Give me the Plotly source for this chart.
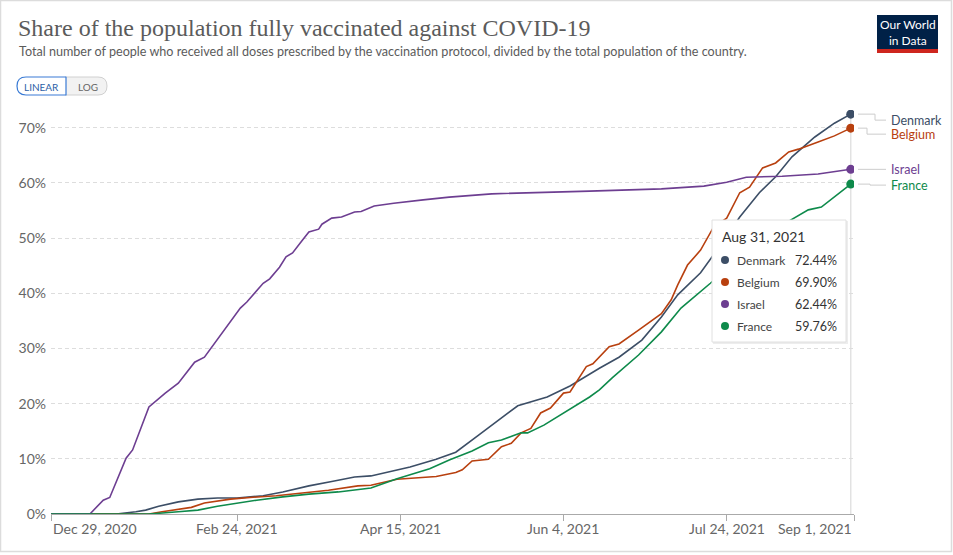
import plotly.graph_objects as go

# ---------------- data ----------------
countries = ["Denmark", "Belgium", "Israel", "France"]
colors = ["#3C4E66", "#B8400F", "#6D3E91", "#0E8A4B"]

denmark_dates = ["2020-12-29", "2021-01-18", "2021-01-24", "2021-01-27", "2021-01-31", "2021-02-06",
                 "2021-02-12", "2021-02-18", "2021-02-24", "2021-03-04", "2021-03-10", "2021-03-18",
                 "2021-03-25", "2021-04-01", "2021-04-06", "2021-04-18", "2021-04-26", "2021-05-02",
                 "2021-05-09", "2021-05-15", "2021-05-21", "2021-05-30", "2021-06-06", "2021-06-15",
                 "2021-06-21", "2021-06-28", "2021-07-04", "2021-07-09", "2021-07-16", "2021-07-21",
                 "2021-07-28", "2021-08-03", "2021-08-08", "2021-08-13", "2021-08-20", "2021-08-26",
                 "2021-08-31"]
denmark_values = [0.0, 0.0, 0.4, 0.7, 1.4, 2.2,
                  2.7, 2.9, 2.9, 3.3, 4.0, 5.1,
                  5.9, 6.7, 6.9, 8.5, 9.9, 11.2,
                  14.3, 17.0, 19.6, 21.2, 23.2, 26.4,
                  28.4, 31.5, 35.7, 39.7, 43.7, 47.8,
                  53.8, 58.2, 61.1, 64.7, 68.3, 70.8,
                  72.44]

belgium_dates = ["2020-12-29", "2021-01-28", "2021-02-01", "2021-02-06", "2021-02-10", "2021-02-14",
                 "2021-02-18", "2021-02-22", "2021-02-28", "2021-03-08", "2021-03-16", "2021-03-24",
                 "2021-04-02", "2021-04-06", "2021-04-14", "2021-04-26", "2021-05-02", "2021-05-04",
                 "2021-05-07", "2021-05-12", "2021-05-16", "2021-05-19", "2021-05-22", "2021-05-25",
                 "2021-05-28", "2021-05-31", "2021-06-04", "2021-06-06", "2021-06-11", "2021-06-13",
                 "2021-06-18", "2021-06-21", "2021-06-27", "2021-07-04", "2021-07-07", "2021-07-09",
                 "2021-07-12", "2021-07-16", "2021-07-20", "2021-07-24", "2021-07-28", "2021-07-31",
                 "2021-08-04", "2021-08-08", "2021-08-12", "2021-08-15", "2021-08-21", "2021-08-26",
                 "2021-08-31"]
belgium_values = [0.0, 0.0, 0.4, 0.9, 1.2, 2.0,
                  2.4, 2.7, 3.0, 3.3, 3.8, 4.3,
                  5.1, 5.2, 6.3, 6.8, 7.5, 8.0,
                  9.6, 9.9, 12.2, 12.8, 14.7, 15.5,
                  18.3, 19.2, 21.9, 22.1, 26.7, 27.2,
                  30.3, 30.8, 33.3, 36.3, 38.8, 41.5,
                  45.1, 47.8, 52.0, 53.6, 58.2, 59.2,
                  62.7, 63.6, 65.6, 66.1, 67.4, 68.5,
                  69.90]

israel_dates = ["2020-12-29", "2021-01-10", "2021-01-14", "2021-01-16", "2021-01-21", "2021-01-23",
                "2021-01-28", "2021-02-02", "2021-02-06", "2021-02-11", "2021-02-14", "2021-02-20",
                "2021-02-25", "2021-02-27", "2021-03-04", "2021-03-06", "2021-03-09", "2021-03-11",
                "2021-03-13", "2021-03-16", "2021-03-18", "2021-03-21", "2021-03-22", "2021-03-25",
                "2021-03-28", "2021-04-01", "2021-04-03", "2021-04-07", "2021-04-13", "2021-04-22",
                "2021-04-30", "2021-05-13", "2021-05-28", "2021-06-12", "2021-07-04", "2021-07-13",
                "2021-07-17", "2021-07-24", "2021-07-30", "2021-08-10", "2021-08-21", "2021-08-31"]
israel_values = [0.0, 0.05, 2.5, 3.0, 10.1, 11.6,
                 19.4, 21.9, 23.7, 27.5, 28.4, 33.3,
                 37.3, 38.4, 41.8, 42.6, 44.7, 46.6,
                 47.3, 49.6, 51.1, 51.6, 52.5, 53.6,
                 53.8, 54.7, 54.8, 55.8, 56.3, 56.9,
                 57.4, 58.0, 58.3, 58.5, 58.9, 59.2,
                 59.4, 60.1, 61.0, 61.2, 61.6, 62.44]

france_dates = ["2020-12-29", "2021-01-28", "2021-02-06", "2021-02-12", "2021-02-18", "2021-02-24",
                "2021-03-02", "2021-03-10", "2021-03-18", "2021-03-27", "2021-04-02", "2021-04-06",
                "2021-04-14", "2021-04-24", "2021-04-30", "2021-05-07", "2021-05-12", "2021-05-16",
                "2021-05-22", "2021-05-24", "2021-05-29", "2021-06-04", "2021-06-12", "2021-06-15",
                "2021-06-19", "2021-06-27", "2021-07-04", "2021-07-10", "2021-07-19", "2021-07-26",
                "2021-08-02", "2021-08-11", "2021-08-18", "2021-08-22", "2021-08-26", "2021-08-31"]
france_values = [0.0, 0.0, 0.4, 0.7, 1.4, 2.0,
                 2.5, 3.1, 3.6, 4.0, 4.5, 4.7,
                 6.4, 8.2, 9.8, 11.4, 12.9, 13.4,
                 14.7, 14.7, 16.1, 18.3, 21.2, 22.5,
                 24.7, 28.8, 33.0, 37.3, 41.8, 45.5,
                 49.1, 52.7, 55.1, 55.6, 57.4, 59.76]

tick_dates = ["2020-12-29", "2021-02-24", "2021-04-15", "2021-06-04", "2021-07-24", "2021-09-01"]
tick_labels = ["Dec 29, 2020", "Feb 24, 2021", "Apr 15, 2021", "Jun 4, 2021", "Jul 24, 2021", "Sep 1, 2021"]
y_ticks = [0, 10, 20, 30, 40, 50, 60, 70]
y_tick_labels = ["0%", "10%", "20%", "30%", "40%", "50%", "60%", "70%"]
hover_date_label = "Aug 31, 2021"

title = "Share of the population fully vaccinated against COVID-19"
subtitle = ("Total number of people who received all doses prescribed by the vaccination protocol, "
            "divided by the total population of the country.")

# ---------------- layout geometry (pixels) ----------------
W, H = 953, 555
PL, PR, PT, PB = 51, 854, 110, 514
PPU = 5.52                      # pixels per percentage point
Y_MAX = (PB - PT) / PPU


def fx(px):
    return (px - PL) / (PR - PL)


def fy(py):
    return (PB - py) / (PB - PT)


series = [
    (countries[0], denmark_dates, denmark_values, colors[0]),
    (countries[1], belgium_dates, belgium_values, colors[1]),
    (countries[2], israel_dates, israel_values, colors[2]),
    (countries[3], france_dates, france_values, colors[3]),
]

fig = go.Figure()
for name, d, v, c in series:
    fig.add_trace(go.Scatter(x=d, y=v, mode="lines", name=name,
                             line=dict(color=c, width=1.6), hoverinfo="skip"))

# end-point markers
fig.add_trace(go.Scatter(x=[s[1][-1] for s in series], y=[s[2][-1] for s in series],
                         mode="markers", marker=dict(color=[s[3] for s in series], size=9),
                         hoverinfo="skip"))

shapes = []
annotations = []

# hover vertical line
shapes.append(dict(type="line", xref="x", yref="paper", x0=denmark_dates[-1], x1=denmark_dates[-1],
                   y0=0, y1=1, line=dict(color="#e2e2e2", width=1.5), layer="below"))

# outer frame
shapes.append(dict(type="rect", xref="paper", yref="paper", x0=fx(0.5), x1=fx(951.5),
                   y0=fy(0.5), y1=fy(551.5), line=dict(color="#dcdcdc", width=1.5)))

# title and subtitle
annotations.append(dict(text=title, xref="paper", yref="paper", x=fx(16), y=fy(28),
                        xanchor="left", yanchor="middle", showarrow=False,
                        font=dict(family="Liberation Serif", size=24, color="#5b5b5b")))
annotations.append(dict(text=subtitle, xref="paper", yref="paper", x=fx(17), y=fy(51),
                        xanchor="left", yanchor="middle", showarrow=False,
                        font=dict(family="Lato", size=12.6, color="#5b5b5b")))

# logo
shapes.append(dict(type="rect", xref="paper", yref="paper", x0=fx(877), x1=fx(938),
                   y0=fy(49), y1=fy(15), fillcolor="#002147", line=dict(width=0)))
shapes.append(dict(type="rect", xref="paper", yref="paper", x0=fx(877), x1=fx(938),
                   y0=fy(53), y1=fy(49), fillcolor="#CE261E", line=dict(width=0)))
annotations.append(dict(text="Our World<br>in Data", xref="paper", yref="paper", x=fx(907.5), y=fy(32),
                        xanchor="center", yanchor="middle", showarrow=False, align="center",
                        font=dict(family="Lato", size=12, color="white")))

# LINEAR / LOG buttons
def rpath(x0, y0, x1, y1, rl, rr):
    X0, X1 = fx(x0), fx(x1)
    Y0, Y1 = fy(y0), fy(y1)
    def X(p): return fx(p)
    def Y(p): return fy(p)
    return (f"M {X(x0 + rl)},{Y0} L {X(x1 - rr)},{Y0} Q {X1},{Y0} {X1},{Y(y0 + rr)} "
            f"L {X1},{Y(y1 - rr)} Q {X1},{Y1} {X(x1 - rr)},{Y1} L {X(x0 + rl)},{Y1} "
            f"Q {X0},{Y1} {X0},{Y(y1 - rl)} L {X0},{Y(y0 + rl)} Q {X0},{Y0} {X(x0 + rl)},{Y0} Z")

shapes.append(dict(type="path", xref="paper", yref="paper", path=rpath(65, 77, 107, 95, 0.01, 9),
                   fillcolor="#f2f2f2", line=dict(color="#d0d0d0", width=1)))
shapes.append(dict(type="path", xref="paper", yref="paper", path=rpath(17, 77, 66, 95, 9, 0.01),
                   fillcolor="white", line=dict(color="#3a7bd5", width=1.2)))
annotations.append(dict(text="LINEAR", xref="paper", yref="paper", x=fx(41.5), y=fy(86.5),
                        xanchor="center", yanchor="middle", showarrow=False,
                        font=dict(family="Lato", size=10, color="#2d5fa6")))
annotations.append(dict(text="LOG", xref="paper", yref="paper", x=fx(87.5), y=fy(86.5),
                        xanchor="center", yanchor="middle", showarrow=False,
                        font=dict(family="Lato", size=10, color="#666666")))

# x tick labels (first left aligned, last right aligned)
for i, (td, tl) in enumerate(zip(tick_dates, tick_labels)):
    anchor = "left" if i == 0 else ("right" if i == len(tick_dates) - 1 else "center")
    annotations.append(dict(text=tl, xref="x", yref="paper", x=td, y=fy(528),
                            xanchor=anchor, yanchor="middle", showarrow=False,
                            font=dict(family="Lato", size=14, color="#666666")))

# right-hand labels with connectors
label_shift_px = {"Denmark": 6, "Belgium": 6, "Israel": 0, "France": 1}
bend_px = {"Denmark": 875, "Belgium": 867, "Israel": 870, "France": 870}
for name, d, v, c in series:
    last = v[-1]
    sh = label_shift_px[name]
    yl = last - sh / PPU
    bx = bend_px[name]
    path = (f"M {fx(858)},{last} L {fx(bx)},{last} L {fx(bx)},{yl} L {fx(886)},{yl}")
    shapes.append(dict(type="path", xref="paper", yref="y", path=path,
                       line=dict(color="#cccccc", width=1)))
    annotations.append(dict(text=name, xref="paper", yref="y", x=fx(889), y=yl,
                            xanchor="left", yanchor="middle", showarrow=False,
                            font=dict(family="Lato", size=12.5, color=c)))

# tooltip
shapes.append(dict(type="rect", xref="paper", yref="paper", x0=fx(713), x1=fx(848),
                   y0=fy(344), y1=fy(221), fillcolor="rgba(0,0,0,0.07)", line=dict(width=0)))
shapes.append(dict(type="rect", xref="paper", yref="paper", x0=fx(712), x1=fx(846),
                   y0=fy(342), y1=fy(220), fillcolor="white", line=dict(color="#e0e0e0", width=1)))
annotations.append(dict(text=hover_date_label, xref="paper", yref="paper", x=fx(720), y=fy(237),
                        xanchor="left", yanchor="middle", showarrow=False,
                        font=dict(family="Lato", size=14, color="#333333")))
row_y = [260, 282, 304, 326]
for (name, d, v, c), ry in zip(series, row_y):
    shapes.append(dict(type="circle", xref="paper", yref="paper",
                       x0=fx(721), x1=fx(729), y0=fy(ry + 4), y1=fy(ry - 4),
                       fillcolor=c, line=dict(width=0)))
    annotations.append(dict(text=name, xref="paper", yref="paper", x=fx(735), y=fy(ry),
                            xanchor="left", yanchor="middle", showarrow=False,
                            font=dict(family="Lato", size=12, color="#444444")))
    annotations.append(dict(text=f"{v[-1]:.2f}%", xref="paper", yref="paper", x=fx(839), y=fy(ry),
                            xanchor="right", yanchor="middle", showarrow=False,
                            font=dict(family="Lato", size=12.5, color="#333333")))

fig.update_layout(
    width=W, height=H,
    margin=dict(l=PL, r=W - PR, t=PT, b=H - PB, pad=0),
    paper_bgcolor="white", plot_bgcolor="white",
    showlegend=False, hovermode=False,
    font=dict(family="Lato", color="#666666"),
    shapes=shapes, annotations=annotations,
)
fig.update_xaxes(type="date", range=[tick_dates[0], tick_dates[-1]], tickvals=tick_dates,
                 showticklabels=False, ticks="outside", ticklen=6, tickcolor="#aaaaaa",
                 tickwidth=1, showline=True, linecolor="#aaaaaa", linewidth=1,
                 showgrid=False, zeroline=False, fixedrange=True)
fig.update_yaxes(range=[0, Y_MAX], tickvals=y_ticks, ticktext=y_tick_labels,
                 showgrid=True, gridcolor="#dddddd", griddash="4px,3px", gridwidth=1,
                 zeroline=False, ticks="", ticklabelstandoff=4,
                 tickfont=dict(family="Lato", size=14, color="#666666"), fixedrange=True)

fig.write_html("out.html", config={"displayModeBar": False},
               post_script="document.body.style.margin='0';document.body.style.overflow='hidden';")
